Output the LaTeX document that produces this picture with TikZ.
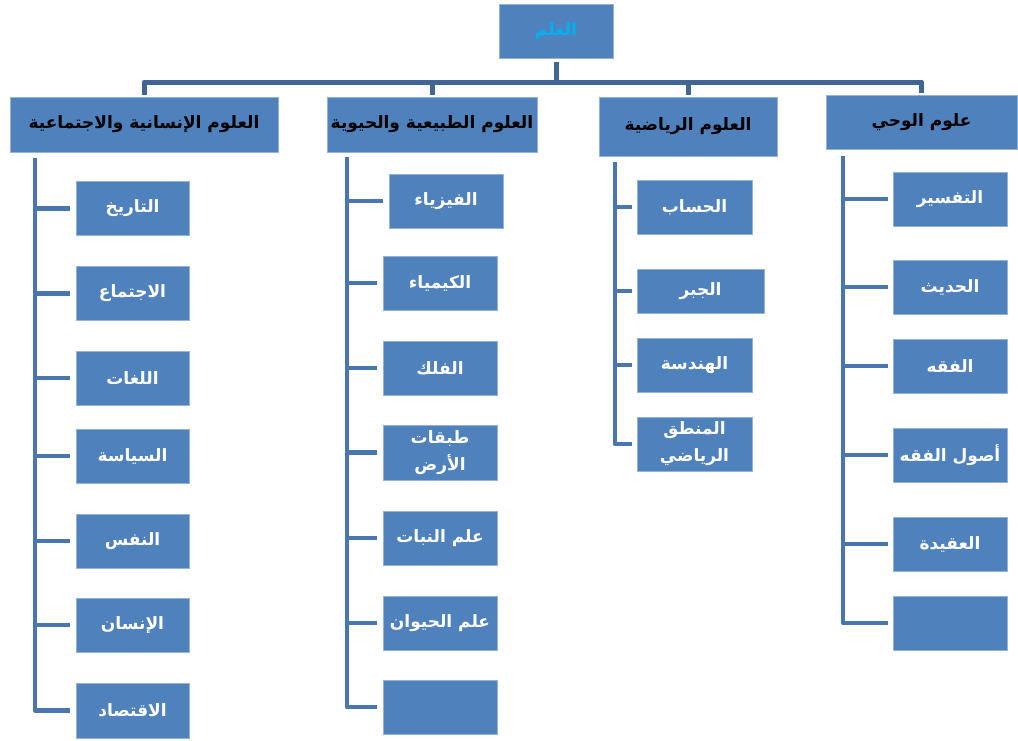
\documentclass[tikz,border=0pt]{standalone}
\usepackage{fontspec}
\newfontfamily\arabicfont[Script=Arabic]{DejaVu Sans}
\TeXXeTstate=1
\newcommand{\artxt}[1]{\beginR #1\endR}
\definecolor{boxblue}{HTML}{4F81BD}
\definecolor{spineblue}{HTML}{4A76AE}
\definecolor{barblue}{HTML}{3F6697}
\definecolor{rootcyan}{HTML}{00B0F0}
\usetikzlibrary{positioning}

\begin{document}
\begin{tikzpicture}
   [x=1pt,y=-1pt,
    every node/.style={inner sep=0pt,align=center},
    cell/.style={fill=boxblue,draw=boxblue!60!white,line width=0.6pt,
      minimum width=114pt,minimum height=54pt,text=white,
      font=\arabicfont\bfseries\fontsize{17}{27}\selectfont},
    head/.style={cell,text=black},
    spine/.style={draw=spineblue,line width=4.5pt,line join=round,line cap=butt},
    bar/.style={draw=barblue,line width=5pt,line join=round}]

\useasboundingbox (0,0) rectangle (1018,740);

%%%%%%%%%%%%%%%%%%%%%%%%%%%%%%%%%%%%%%%%%%%%%%%%%%%%%%%%%%%%%%%
% Root and the four branches
%%%%%%%%%%%%%%%%%%%%%%%%%%%%%%%%%%%%%%%%%%%%%%%%%%%%%%%%%%%%%%%

\node[cell,text=rootcyan](root) at (556,31) {\artxt{العلم}};

\node[head,minimum width=268pt,minimum height=55pt](hum) at (144,124.5) {\artxt{العلوم الإنسانية والاجتماعية}};
\node[head,minimum width=210pt,minimum height=55pt](nat) at (432,124.5) {\artxt{العلوم الطبيعية والحيوية}};
\node[head,minimum width=178pt,minimum height=59pt](math) at (688,126.5) {\artxt{العلوم الرياضية}};
\node[head,minimum width=191pt](rev) at (921.5,122) {\artxt{علوم الوحي}};

\coordinate (hub) at (556,82);
\draw[bar,shorten <=4pt] (root.south) -- (hub);
\draw[bar,shorten >=2pt] (hub) -| (hum.north);
\draw[bar,shorten >=2pt] (hub) -| (nat.north);
\draw[bar,shorten >=2pt] (hub) -| (math.north);
\draw[bar,shorten >=2pt] (hub) -| (rev.north);

%%%%%%%%%%%%%%%%%%%%%%%%%%%%%%%%%%%%%%%%%%%%%%%%%%%%%%%%%%%%%%%
% Column 1 = humanities
%%%%%%%%%%%%%%%%%%%%%%%%%%%%%%%%%%%%%%%%%%%%%%%%%%%%%%%%%%%%%%%

\node[cell,minimum width=113pt](hum1) at (132.5,208.5) {\artxt{التاريخ}};
\node[cell,minimum width=113pt](hum2) at (132.5,293.5) {\artxt{الاجتماع}};
\node[cell,minimum width=113pt](hum3) at (132.5,378) {\artxt{اللغات}};
\node[cell,minimum width=113pt](hum4) at (132.5,456) {\artxt{السياسة}};
\node[cell,minimum width=113pt](hum5) at (132.5,541) {\artxt{النفس}};
\node[cell,minimum width=113pt](hum6) at (132.5,625) {\artxt{الإنسان}};
\node[cell,minimum width=113pt,minimum height=55pt](hum7) at (132.5,710.5) {\artxt{الاقتصاد}};

\coordinate (humtop) at (35,158);
\draw[spine] (humtop) |- ([xshift=-6pt]hum7.west);
\foreach \n in {hum1,hum2,hum3,hum4,hum5,hum6}
	\draw[spine] (humtop |- \n.west) -- ([xshift=-6pt]\n.west);

%%%%%%%%%%%%%%%%%%%%%%%%%%%%%%%%%%%%%%%%%%%%%%%%%%%%%%%%%%%%%%%
% Column 2 = natural sciences
%%%%%%%%%%%%%%%%%%%%%%%%%%%%%%%%%%%%%%%%%%%%%%%%%%%%%%%%%%%%%%%

\node[cell](nat1) at (446,201) {\artxt{الفيزياء}};
\node[cell](nat2) at (440,283) {\artxt{الكيمياء}};
\node[cell](nat3) at (440,368) {\artxt{الفلك}};
\node[cell,minimum height=55pt](nat4) at (440,452.5) {\artxt{طبقات}\\\artxt{الأرض}};
\node[cell](nat5) at (440,538) {\artxt{علم النبات}};
\node[cell](nat6) at (440,623) {\artxt{علم الحيوان}};
\node[cell](nat7) at (440,707) {};

\coordinate (nattop) at (347,157);
\draw[spine] (nattop) |- ([xshift=-6pt]nat7.west);
\foreach \n in {nat1,nat2,nat3,nat4,nat5,nat6}
	\draw[spine] (nattop |- \n.west) -- ([xshift=-6pt]\n.west);

%%%%%%%%%%%%%%%%%%%%%%%%%%%%%%%%%%%%%%%%%%%%%%%%%%%%%%%%%%%%%%%
% Column 3 = mathematics
%%%%%%%%%%%%%%%%%%%%%%%%%%%%%%%%%%%%%%%%%%%%%%%%%%%%%%%%%%%%%%%

\node[cell,minimum width=115pt](math1) at (694.5,207) {\artxt{الحساب}};
\node[cell,minimum width=127pt,minimum height=44pt](math2) at (700.5,291) {\artxt{الجبر}};
\node[cell,minimum width=115pt](math3) at (694.5,365) {\artxt{الهندسة}};
\node[cell,minimum width=115pt](math4) at (694.5,444) {\artxt{المنطق}\\\artxt{الرياضي}};

\coordinate (mathtop) at (615,162);
\draw[spine] (mathtop) |- ([xshift=-5pt]math4.west);
\foreach \n in {math1,math2,math3}
	\draw[spine] (mathtop |- \n.west) -- ([xshift=-5pt]\n.west);

%%%%%%%%%%%%%%%%%%%%%%%%%%%%%%%%%%%%%%%%%%%%%%%%%%%%%%%%%%%%%%%
% Column 4 = revealed sciences
%%%%%%%%%%%%%%%%%%%%%%%%%%%%%%%%%%%%%%%%%%%%%%%%%%%%%%%%%%%%%%%

\node[cell](rev1) at (950,199) {\artxt{التفسير}};
\node[cell](rev2) at (950,287) {\artxt{الحديث}};
\node[cell](rev3) at (950,366) {\artxt{الفقه}};
\node[cell](rev4) at (950,455) {\artxt{أصول الفقه}};
\node[cell](rev5) at (950,544) {\artxt{العقيدة}};
\node[cell](rev6) at (950,623) {};

\coordinate (revtop) at (843,156);
\draw[spine] (revtop) |- ([xshift=-5pt]rev6.west);
\foreach \n in {rev1,rev2,rev3,rev4,rev5}
	\draw[spine] (revtop |- \n.west) -- ([xshift=-5pt]\n.west);

\end{tikzpicture}
\end{document}
